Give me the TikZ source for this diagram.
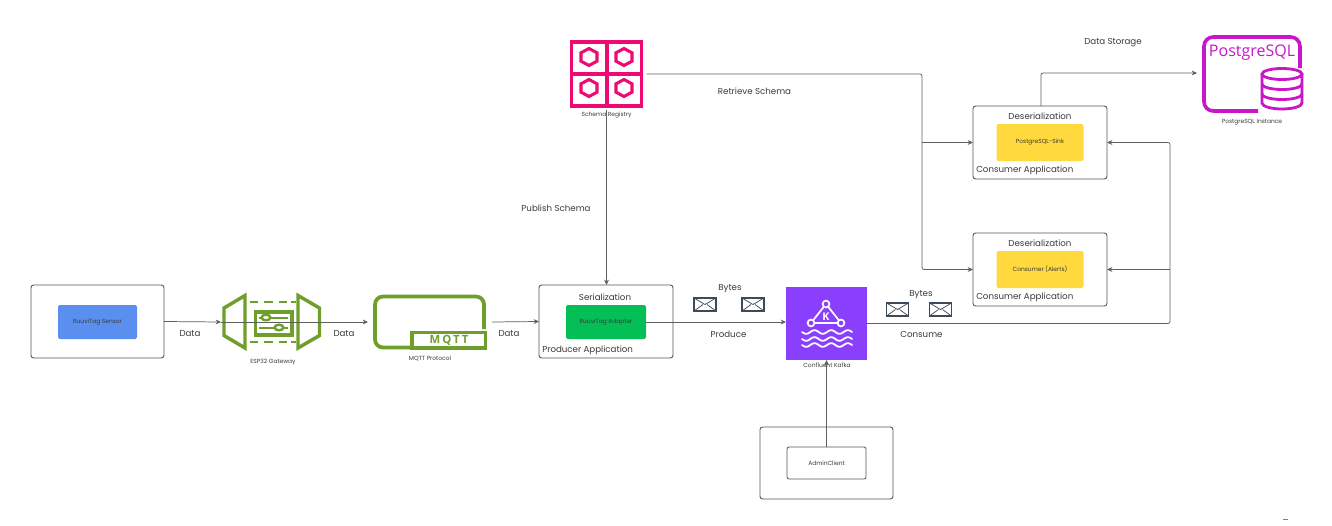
\documentclass[tikz,border=0pt]{standalone}
\usepackage{fontspec}
\setmainfont{Poppins}
\newfontfamily\iconfont{Open Sans}
\usetikzlibrary{arrows.meta,calc}
\definecolor{linegray}{HTML}{5F5F5F}
\definecolor{boxgray}{HTML}{555555}
\definecolor{txt}{HTML}{3A3A3A}
\definecolor{awsgreen}{HTML}{6E9F2B}
\definecolor{kafkap}{HTML}{8A3FFC}
\definecolor{regpink}{HTML}{EE0A72}
\definecolor{pgmag}{HTML}{C916C9}
\definecolor{sensorblue}{HTML}{5B8FEF}
\definecolor{adaptgreen}{HTML}{04BF55}
\definecolor{sinkyellow}{HTML}{FFD93D}
\definecolor{envgray}{HTML}{3F4A57}
\tikzset{
  x=0.75pt,y=-0.75pt,
  sz/.style 2 args={minimum width=#1*0.75pt,minimum height=#2*0.75pt,inner sep=0pt,outer sep=0pt},
  outerbox/.style={draw=boxgray,line width=0.7pt,rounded corners=2pt,fill=white},
  inbox/.style={rounded corners=1.2pt,text=txt,font=\fontsize{4.45}{5}\selectfont},
  conn/.style={draw=linegray,line width=0.55pt,-{Stealth[length=4pt,width=3.6pt]},rounded corners=1.5pt},
  lab/.style={text=txt,inner sep=0pt,yshift=-0.75pt,font=\fontsize{6.5}{8}\selectfont},
  small/.style={text=txt,inner sep=0pt,font=\fontsize{4.45}{5}\selectfont},
  icon/.style={draw=none,fill=none},
  envelope/.style={draw=envgray,line width=0.8pt,fill=white},
}
\newcommand{\envel}[3]{%
  \node[envelope,sz={22}{13}] (#1) at (#2,#3) {};
  \draw[envgray,line width=0.55pt] (#1.north west) -- (#1.center) -- (#1.north east);
  \draw[envgray,line width=0.55pt] (#1.south west) -- ($(#1.center)+(-2,0)$);
  \draw[envgray,line width=0.55pt] (#1.south east) -- ($(#1.center)+(2,0)$);
}
\begin{document}
\begin{tikzpicture}
\useasboundingbox (0,0) rectangle (1332,525);
\fill[white] (0,0) rectangle (1332,525);

% boxes
\node[outerbox,sz={133}{73}] (sensorbox) at (97.5,321.5) {};
\node[inbox,sz={79}{34},fill=sensorblue] (sensor) at (97.5,322) {RuuviTag Sensor};

\node[outerbox,sz={134}{73}] (prod) at (606,321.5) {};
\node[inbox,sz={80}{34},fill=adaptgreen] (adapter) at (606,322) {RuuviTag Adapter};
\node[lab] (serial) at (605,296) {Serialization};
\node[lab,anchor=west] (prodl) at (542,349.5) {Producer Application};

\node[outerbox,sz={134}{73}] (cons1) at (1040,142.5) {};
\node[inbox,sz={87}{37},fill=sinkyellow] (sink) at (1040,142.5) {PostgreSQL-Sink};
\node[lab] (deser1) at (1040,115.5) {Deserialization};
\node[lab,anchor=west] (cons1l) at (976,169.5) {Consumer Application};

\node[outerbox,sz={134}{73}] (cons2) at (1040,269.5) {};
\node[inbox,sz={87}{37},fill=sinkyellow] (alerts) at (1040,269.5) {Consumer (Alerts)};
\node[lab] (deser2) at (1040,242.5) {Deserialization};
\node[lab,anchor=west] (cons2l) at (976,296.5) {Consumer Application};

\node[outerbox,sz={133}{72}] (adminbox) at (826.5,463) {};
\node[outerbox,sz={79}{32},text=txt,font=\fontsize{4.45}{5}\selectfont,rounded corners=1.5pt,line width=0.6pt] (admin) at (826.5,463) {AdminClient};

% Kafka
\node[sz={81}{73},fill=kafkap] (kafka) at (826.5,323.5) {};
\begin{scope}[white,line width=1.3pt]
  \draw (826,304) -- (811,323) -- (841,323) -- cycle;
  \foreach \cx/\cy in {826/304,811/323,841/323}
    \draw[fill=kafkap] (\cx,\cy) circle (3.4*0.75pt);
  \foreach \wy in {332,339,345}
    \draw[line width=1.35pt,line cap=round] plot[domain=802:852,samples=70,smooth] (\x,{\wy+1.8*sin((\x-802)*21.6)});
\end{scope}
\node[text=white,inner sep=0pt,font=\iconfont\bfseries\fontsize{8}{8}\selectfont] (kafkak) at (826,316.5) {K};
\node[small] (kafkal) at (827,365.5) {Confluent Kafka};

% Schema Registry
\node[draw=regpink,line width=2.3pt,sz={70}{64},outer xsep=5*0.75pt,outer ysep=4*0.75pt,fill=white] (reg) at (606.5,74) {};
\draw[regpink,line width=2.3pt] (607,42) -- (607,106) (571,74) -- (642,74);
\foreach \hx/\hy in {589/57,624/57,589/88,624/88}
  \draw[regpink,line width=2.3pt] (\hx,\hy-8.5) -- (\hx+8,\hy-4.2) -- (\hx+8,\hy+4.2) -- (\hx,\hy+8.5) -- (\hx-8,\hy+4.2) -- (\hx-8,\hy-4.2) -- cycle;
\node[small] (regl) at (606.5,115.5) {Schema Registry};

% ESP32 gateway icon
\node[icon,sz={97}{54},outer xsep=2*0.75pt] (gw) at (271.5,322) {};
\begin{scope}[awsgreen,line width=2.6pt,line join=miter]
  \draw (245,295.5) -- (224,308) -- (224,335.5) -- (245,348) -- cycle;
  \draw (298,295.5) -- (319.5,308) -- (319.5,335.5) -- (298,348) -- cycle;
  \draw[line width=2.2pt] (250,302) -- (258,302) (264,302) -- (273,302) (279,302) -- (287,302) (291,302) -- (296,302);
  \draw[line width=2.2pt] (250,342) -- (258,342) (264,342) -- (273,342) (279,342) -- (287,342) (291,342) -- (296,342);
  \draw (255.5,312) rectangle (292,335);
  \draw[line width=1.8pt] (259,318) -- (288,318) (259,328) -- (288,328);
  \draw[line width=1.8pt,fill=white] (266,317.5) ellipse (4.4 and 2.8);
  \draw[line width=1.8pt,fill=white] (279,327.5) ellipse (4.4 and 2.8);
\end{scope}
\node[small] (gwl) at (273,362) {ESP32 Gateway};

% MQTT icon
\node[icon,sz={112}{54},outer xsep=6*0.75pt] (mqtt) at (430,322) {};
\draw[awsgreen,line width=2.8pt,rounded corners=6pt] (411,347.5) -- (375,347.5) -- (375,296.5) -- (484,296.5) -- (484,329);
\draw[awsgreen,line width=2.6pt] (412,332.5) rectangle (485.5,348);
\node[text=awsgreen,inner sep=0pt,font=\iconfont\bfseries\fontsize{8.5}{9}\selectfont] (mqttt) at (449,340.5) {\addfontfeature{LetterSpace=18}MQTT};
\node[small] (mqttl) at (430,358.5) {MQTT Protocol};

% PostgreSQL icon
\node[icon,sz={100}{78},outer xsep=5*0.75pt] (pg) at (1252,73) {};
\draw[pgmag,line width=2.7pt,rounded corners=7pt] (1258,111) -- (1204,111) -- (1204,37) -- (1300,37) -- (1300,68);
\node[text=pgmag,inner sep=0pt,font=\iconfont\fontsize{12}{13}\selectfont] (pgt) at (1252,52.5) {PostgreSQL};
\begin{scope}[pgmag,line width=2.1pt]
  \draw[fill=white] (1262,74) -- (1262,103) arc[start angle=180,end angle=0,x radius=20,y radius=6] -- (1302,74);
  \draw[fill=white] (1282,74) ellipse (20 and 5.5);
  \draw (1262,84) arc[start angle=180,end angle=0,x radius=20,y radius=5.5];
  \draw (1262,94) arc[start angle=180,end angle=0,x radius=20,y radius=5.5];
\end{scope}
\node[small] (pgl) at (1252,122.5) {PostgreSQL Instance};

% envelopes
\envel{e1}{705}{304.5}
\envel{e2}{753}{304.5}
\envel{e3}{897.5}{309.5}
\envel{e4}{940.5}{309.5}

% connectors
\draw[conn] (sensorbox.east) -- (gw.west);
\draw[conn] (gw.west) -- (mqtt.west);
\draw[conn] (mqtt.east) -- (prod.west);
\draw[conn] (adapter.east) -- (adapter.east -| kafka.west);
\draw[conn] (reg.south) -- (reg.south |- prod.north);
\draw[conn] (admin.north) -- (admin.north |- kafka.south);

\coordinate (regturn) at (922,74);
\coordinate (regmid) at (922,142.5);
\draw[conn] (reg.east) -- (regturn) -- (regturn |- cons2.west) -- (cons2.west);
\draw[conn] (regmid) -- (cons1.west);

\coordinate (kturn) at (1170,323.5);
\coordinate (kmid) at (1170,269.5);
\draw[conn] (kafka.east) -- (kturn) -- (kturn |- cons1.east) -- (cons1.east);
\draw[conn] (kmid) -- (cons2.east);

\coordinate (pgstart) at (1041,106);
\draw[conn] (pgstart) -- (pgstart |- pg.west) -- (pg.west);

% labels
\node[lab] (d1) at (190,333) {Data};
\node[lab] (d2) at (344,333) {Data};
\node[lab] (d3) at (509,333) {Data};
\node[lab] (b1) at (730,288) {Bytes};
\node[lab] (pr) at (728.5,333) {Produce};
\node[lab] (b2) at (921,293.5) {Bytes};
\node[lab] (co) at (921.5,333) {Consume};
\node[lab] (rs) at (754.5,90) {Retrieve Schema};
\node[lab] (ps) at (556,207.5) {Publish Schema};
\node[lab] (ds) at (1113,42) {Data Storage};
\draw[gray,line width=0.8pt] (1283,519.5) -- (1288,519.5);
\end{tikzpicture}
\end{document}
